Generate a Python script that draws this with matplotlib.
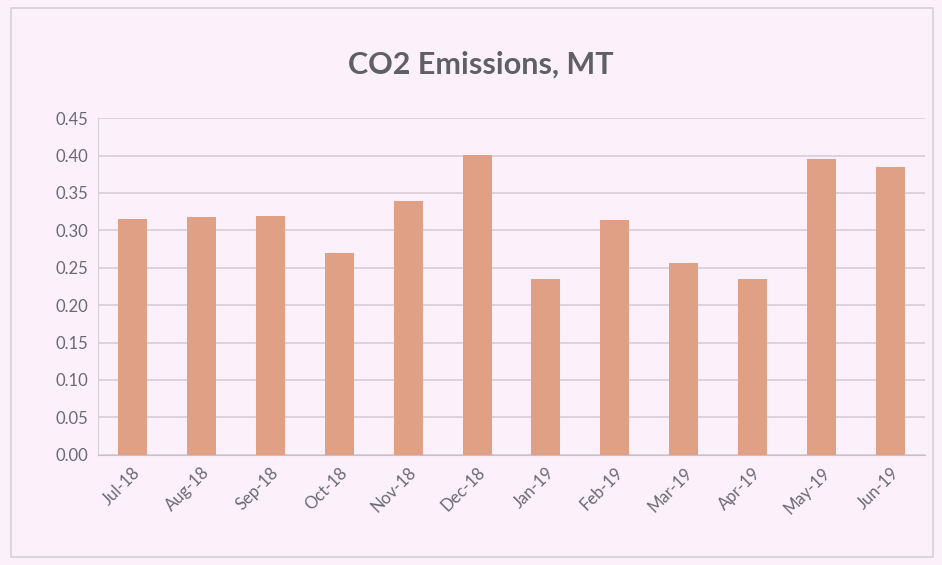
import matplotlib
matplotlib.use("Agg")
import matplotlib.pyplot as plt
from matplotlib.patches import Rectangle

months = ["Jul-18", "Aug-18", "Sep-18", "Oct-18", "Nov-18", "Dec-18",
          "Jan-19", "Feb-19", "Mar-19", "Apr-19", "May-19", "Jun-19"]
emissions = [0.315, 0.318, 0.319, 0.270, 0.339, 0.401,
             0.235, 0.314, 0.256, 0.235, 0.395, 0.385]
y_ticks = [0.00, 0.05, 0.10, 0.15, 0.20, 0.25, 0.30, 0.35, 0.40, 0.45]

bg = "#fcf0fa"
fig = plt.figure(figsize=(9.42, 5.65), dpi=100, facecolor=bg)
ax = fig.add_axes([0.104, 0.195, 0.878, 0.596])
ax.set_facecolor(bg)

x = range(len(months))
ax.bar(x, emissions, width=0.42, color="#e0a085", zorder=3)

ax.set_ylim(0, 0.45)
ax.set_xlim(-0.5, len(months) - 0.5)
ax.set_yticks(y_ticks)
ax.set_yticklabels([f"{v:.2f}" for v in y_ticks], fontsize=12, color="#6a6a72", family="Lato")
ax.set_xticks(list(x))
ax.set_xticklabels(months, rotation=45, ha="right", rotation_mode="anchor",
                   fontsize=12, color="#6a6a72", family="Lato")
ax.tick_params(axis="both", length=0, pad=7)
ax.grid(axis="y", color="#d8ccd8", linewidth=1.2, zorder=0)
for s in ["top", "right"]:
    ax.spines[s].set_visible(False)
ax.spines["left"].set_color("#d8d0d8")
ax.spines["bottom"].set_color("#c8c0c8")

fig.text(0.51, 0.885, "CO2 Emissions, MT", ha="center", va="center",
         fontsize=22, fontweight="bold", color="#5f5f66", family="Lato")

fig.patches.append(Rectangle((0.012, 0.015), 0.978, 0.97, transform=fig.transFigure,
                             fill=False, edgecolor="#d6d0d6", linewidth=1.2))

fig.savefig("out.png", dpi=100, facecolor=bg)
